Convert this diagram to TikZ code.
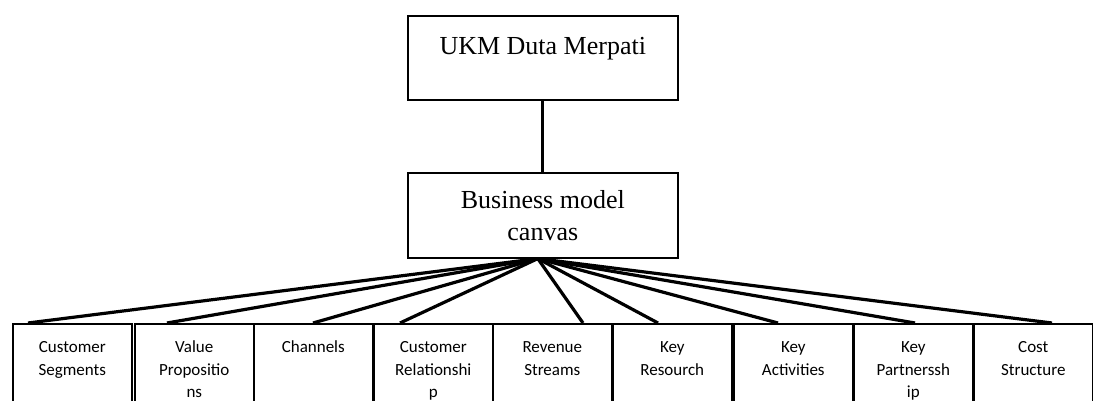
\documentclass[tikz,border=0pt]{standalone}
\usepackage{fontspec}
\setmainfont{Liberation Serif}
\newfontfamily\cellfont{Carlito}
\usepackage{tikz}
\usetikzlibrary{positioning, calc}

\newcommand{\celltext}[1]{\parbox[t][90pt][t]{112pt}{\centering\cellfont\fontsize{17}{22.5}\selectfont\strut #1}}

\begin{document}
\begin{tikzpicture}[x=1pt, y=-1pt,
    every node/.style={draw, rectangle, line width=1.6pt},
    topbox/.style={anchor=north west, minimum width=270pt, inner sep=0pt, font=\fontsize{26}{32}\selectfont},
    cell/.style={anchor=north west, minimum width=119pt, inner xsep=0pt, inner ysep=13pt},
    link/.style={line width=3.2pt}]
    \useasboundingbox (0,0) rectangle (1093,401);
    \clip (0,0) rectangle (1093,401);

    \node[topbox, text height=39pt, text depth=45pt] (ukm) at (407,15) {UKM Duta Merpati};
    \node[topbox, minimum height=85pt, align=center] (bmc) at (407,172) {Business model\\canvas};

    \foreach \x/\n/\t in {12/k1/{Customer\\Segments}, 134/k2/{Value\\Propositio\\ns},
                          253/k3/{Channels}, 373/k4/{Customer\\Relationshi\\p},
                          492/k5/{Revenue\\Streams}, 612/k6/{Key\\Resourch},
                          733/k7/{Key\\Activities}, 853/k8/{Key\\Partnerssh\\ip},
                          973/k9/{Cost\\Structure}}
        \node[cell] (\n) at (\x,323) {\celltext{\t}};

    \draw[link] (ukm) -- (bmc);
    \foreach \n/\d in {k1/16, k2/33, k3/60, k4/27, k5/91, k6/46, k7/45, k8/62, k9/79}
        \draw[link] ($(bmc.south)+(-5,0)$) -- ($(\n.north west)+(\d,0)$);
\end{tikzpicture}
\end{document}
